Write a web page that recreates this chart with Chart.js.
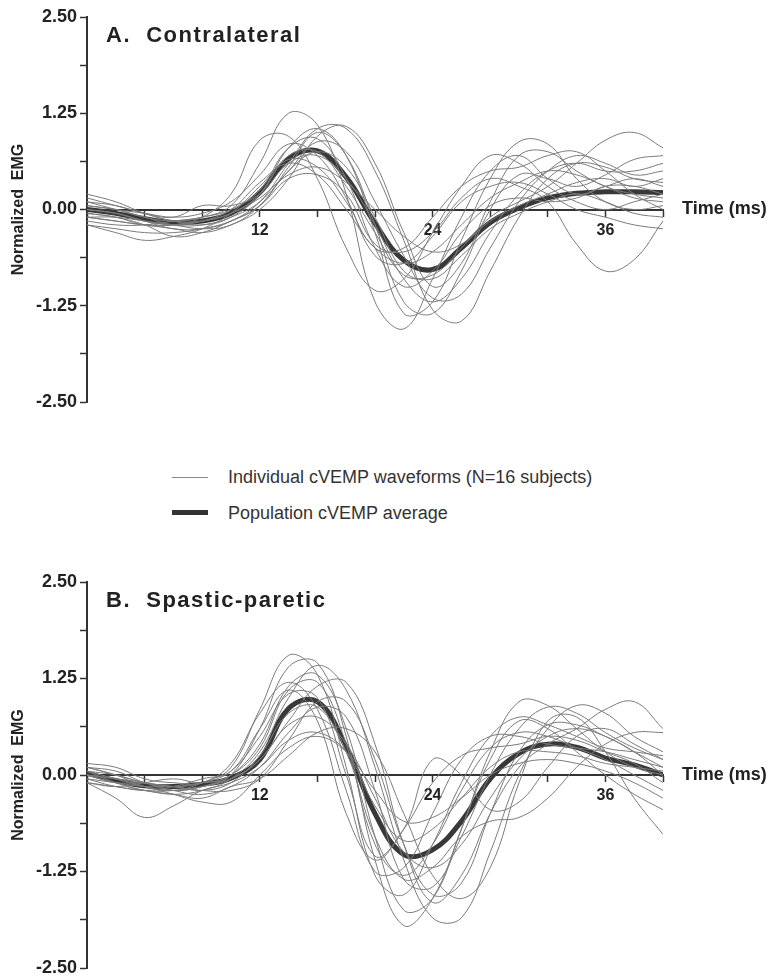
<!DOCTYPE html>
<html>
<head>
<meta charset="utf-8">
<script src="https://cdn.jsdelivr.net/npm/chart.js@4"></script>
<style>
  body { margin: 0; background: #fff; }
  #wrap { position: relative; width: 773px; height: 978px; }
  canvas { position: absolute; left: 0; }
  .legLine { position: absolute; left: 172px; width: 36px; }
  .legText { position: absolute; left: 228px; font: 18px "Liberation Sans", Arial, sans-serif; color: #333; line-height: 20px; white-space: nowrap; }
</style>
</head>
<body>
<div id="wrap">
  <canvas id="chartA" width="773" height="440" style="top:0px"></canvas>
  <div class="legLine" style="top:477px;height:1px;background:#888"></div>
  <div class="legText" style="top:467px">Individual cVEMP waveforms (N=16 subjects)</div>
  <div class="legLine" style="top:510px;height:5px;background:#333"></div>
  <div class="legText" style="top:503px">Population cVEMP average</div>
  <canvas id="chartB" width="773" height="418" style="top:560px"></canvas>
</div>
<script>
// time base (ms), sampled every 2 ms
const timeMs = [0,2,4,6,8,10,12,14,16,18,20,22,24,26,28,30,32,34,36,38,40];
const xTickLabels = [12, 24, 36];
const yTickLabels = [-2.5, -1.25, 0, 1.25, 2.5];

// A. Contralateral - population average
const contraAvg = [0.0,-0.05,-0.12,-0.17,-0.15,-0.05,0.22,0.66,0.76,0.42,-0.18,-0.66,-0.78,-0.5,-0.17,0.02,0.15,0.21,0.23,0.23,0.22];
// A. Contralateral - 16 subjects
const contraWaves = [
  [0.1,0.0,-0.1,-0.15,-0.1,0.05,0.6,1.25,1.1,0.2,-1.2,-1.55,-0.9,-0.1,0.5,0.7,0.4,0.2,0.3,0.4,0.3],
  [-0.05,-0.1,-0.2,-0.2,-0.1,0.2,0.9,0.95,0.4,-0.5,-1.05,-0.9,-0.3,0.3,0.7,0.6,0.3,0.1,0.0,0.1,0.2],
  [0.0,-0.05,-0.15,-0.25,-0.25,-0.15,0.1,0.6,1.05,1.05,0.5,-0.4,-1.3,-1.45,-0.8,-0.1,0.4,0.6,0.55,0.4,0.35],
  [0.2,0.1,-0.05,-0.15,-0.2,-0.1,0.2,0.8,1.05,0.7,-0.3,-1.35,-1.2,-0.4,0.4,0.88,0.85,0.4,0.1,0.0,0.05],
  [-0.1,-0.15,-0.2,-0.2,-0.15,-0.05,0.2,0.7,0.75,0.3,-0.3,-0.85,-0.85,-0.5,-0.1,0.1,0.3,0.6,0.9,1.0,0.8],
  [-0.2,-0.25,-0.3,-0.3,-0.25,-0.15,0.05,0.4,0.45,0.2,-0.45,-0.55,-0.3,0.15,0.4,0.3,0.1,-0.45,-0.8,-0.65,-0.15],
  [0.05,0.0,-0.1,-0.2,-0.2,-0.1,0.1,0.5,0.88,0.75,0.1,-0.6,-1.15,-1.1,-0.5,0.1,0.5,0.7,0.6,0.45,0.5],
  [0.0,-0.05,-0.15,-0.2,-0.15,0.0,0.35,0.6,0.45,0.0,-0.5,-0.7,-0.55,-0.2,0.15,0.35,0.5,0.45,0.3,0.15,0.1],
  [-0.15,-0.2,-0.2,-0.15,-0.1,0.0,0.25,0.8,0.92,0.4,-0.5,-1.0,-0.8,-0.3,0.05,0.15,0.1,0.15,0.3,0.3,0.2],
  [0.1,0.05,-0.05,-0.1,0.05,0.05,0.2,0.6,0.7,0.4,-0.2,-0.9,-1.2,-0.9,-0.3,0.2,0.5,0.6,0.5,0.5,0.6],
  [-0.1,-0.1,-0.15,-0.2,-0.25,-0.2,0.05,0.5,0.75,0.55,-0.1,-0.8,-0.9,-0.6,-0.25,-0.05,0.1,0.2,0.1,-0.05,-0.1],
  [0.05,0.0,-0.05,-0.1,-0.05,0.1,0.45,0.85,0.7,0.15,-0.6,-0.7,-0.35,0.1,0.3,0.35,0.2,0.0,-0.1,-0.2,-0.25],
  [-0.1,-0.15,-0.2,-0.25,-0.3,-0.2,0.0,0.4,0.95,1.08,0.6,-0.3,-1.0,-0.7,0.1,0.7,0.75,0.5,0.3,0.2,0.15],
  [0.15,0.05,-0.05,-0.15,-0.15,-0.05,0.15,0.45,0.55,0.35,0.0,-0.35,-0.55,-0.45,-0.15,0.05,0.2,0.35,0.4,0.3,0.4],
  [-0.05,-0.1,-0.2,-0.35,-0.3,-0.15,0.05,0.55,1.0,0.7,-0.2,-1.2,-1.35,-0.8,0.0,0.45,0.4,0.3,0.45,0.65,0.7],
  [-0.2,-0.3,-0.4,-0.35,-0.25,-0.05,0.3,0.65,0.55,0.1,-0.5,-0.5,-0.1,0.3,0.5,0.55,0.7,0.75,0.5,0.2,0.0]
];

// B. Spastic-paretic - population average
const spasticAvg = [0.02,-0.07,-0.14,-0.15,-0.12,-0.04,0.2,0.86,0.95,0.36,-0.5,-1.03,-0.97,-0.6,-0.05,0.28,0.4,0.36,0.22,0.13,0.0];
// B. Spastic-paretic - 16 subjects
const spasticWaves = [
  [0.1,0.0,-0.15,-0.2,-0.1,0.1,0.85,1.55,1.3,0.1,-1.3,-1.55,-0.9,-0.1,0.5,0.75,0.65,0.5,0.35,0.3,0.25],
  [0.05,-0.1,-0.2,-0.2,-0.15,0.0,0.6,1.4,1.45,0.5,-1.1,-1.95,-1.6,-0.7,0.3,0.95,0.9,0.6,0.3,0.1,0.0],
  [-0.05,-0.15,-0.2,-0.25,-0.2,-0.05,0.3,1.0,1.42,1.1,0.1,-1.1,-1.85,-1.85,-1.0,0.0,0.6,0.9,0.8,0.5,0.3],
  [0.0,-0.1,-0.1,-0.15,-0.1,-0.05,0.2,0.7,1.15,1.2,0.4,-0.9,-1.65,-1.3,-0.5,0.1,0.4,0.6,0.85,0.95,0.6],
  [0.15,0.1,-0.05,-0.1,-0.1,0.15,0.8,1.2,0.85,-0.2,-1.25,-1.2,-0.5,0.2,0.5,0.5,0.4,0.35,0.3,0.2,0.1],
  [-0.1,-0.3,-0.55,-0.4,-0.2,-0.1,0.1,0.45,0.55,0.3,-0.4,-0.85,-0.7,-0.3,0.1,0.3,0.3,0.25,0.15,0.1,0.05],
  [0.0,-0.1,-0.2,-0.25,-0.3,-0.15,-0.05,0.25,0.55,0.6,0.3,-0.5,-1.3,-1.6,-1.2,-0.1,0.7,0.75,0.3,-0.3,-0.77],
  [0.05,0.0,-0.1,-0.15,-0.1,0.05,0.5,1.05,1.0,0.0,-1.05,-0.7,0.2,0.0,-0.45,-0.35,0.1,0.5,0.6,0.4,0.2],
  [-0.05,-0.1,-0.15,-0.15,-0.2,-0.1,0.25,0.8,0.88,0.3,-0.8,-1.35,-1.2,-0.8,-0.6,-0.55,-0.3,0.1,0.4,0.55,0.55],
  [0.1,0.05,-0.1,-0.2,-0.15,0.0,0.4,1.15,1.3,0.6,-0.8,-1.75,-1.6,-0.7,0.2,0.7,0.6,0.3,0.0,-0.25,-0.45],
  [0.0,-0.05,-0.1,-0.2,-0.25,-0.15,0.1,0.55,0.88,0.75,-0.2,-1.35,-1.45,-0.8,0.0,0.6,0.88,0.8,0.55,0.35,0.2],
  [-0.1,-0.15,-0.2,-0.15,-0.05,0.05,0.6,1.1,0.7,-0.5,-1.1,-0.7,-0.1,0.25,0.35,0.4,0.5,0.45,0.3,0.15,-0.1],
  [0.05,-0.05,-0.15,-0.2,-0.15,-0.05,0.2,0.65,0.75,0.4,-0.3,-1.0,-1.2,-0.9,-0.3,0.2,0.5,0.6,0.5,0.3,0.1],
  [-0.1,-0.15,-0.1,-0.05,-0.1,0.0,0.35,1.1,1.2,0.4,-0.9,-1.3,-0.9,-0.2,0.35,0.55,0.5,0.35,0.2,0.0,-0.2],
  [0.1,0.0,-0.1,-0.15,-0.2,-0.2,-0.05,0.45,0.95,0.95,0.2,-0.9,-1.55,-1.4,-0.5,0.3,0.65,0.65,0.5,0.3,0.0],
  [0.0,-0.05,-0.15,-0.25,-0.35,-0.35,0.0,0.35,0.5,0.3,-0.2,-0.6,-0.55,-0.3,0.0,0.15,0.2,0.15,0.05,-0.1,-0.3]
];

const FONT = '"Liberation Sans", Arial, sans-serif';
Chart.defaults.font.family = FONT;

// panel title + "Time (ms)" written next to the zero line
const panelText = {
  id: 'panelText',
  afterDraw(chart, args, opts) {
    const { ctx, chartArea, scales } = chart;
    ctx.save();
    ctx.fillStyle = '#222';
    ctx.textBaseline = 'middle';
    ctx.textAlign = 'left';
    ctx.font = 'bold 22px ' + FONT;
    ctx.letterSpacing = '1.5px';
    ctx.fillText(opts.title, chartArea.left + 19, chartArea.top + 19);
    ctx.letterSpacing = '0px';
    ctx.font = 'bold 18px ' + FONT;
    ctx.fillText('Time (ms)', chartArea.right + 19, scales.y.getPixelForValue(0));
    ctx.restore();
  }
};

function toXY(arr) {
  return arr.map((v, i) => ({ x: timeMs[i], y: v }));
}

function makeChart(id, waves, avg, title, pad) {
  var datasets = waves.map(w => ({
    data: toXY(w),
    borderColor: '#7b7b7b',
    borderWidth: 1,
    pointRadius: 0,
    tension: 0.4
  }));
  datasets.push({
    data: toXY(avg),
    borderColor: '#383838',
    borderWidth: 5,
    pointRadius: 0,
    tension: 0.4
  });

  return new Chart(document.getElementById(id), {
    type: 'line',
    data: { datasets: datasets },
    options: {
      responsive: false,
      animation: false,
      layout: { padding: pad },
      plugins: {
        legend: { display: false },
        tooltip: { enabled: false },
        panelText: { title: title }
      },
      scales: {
        x: {
          type: 'linear',
          min: 0,
          max: 40,
          position: { y: 0 },
          ticks: {
            stepSize: 4,
            autoSkip: false,
            maxRotation: 0,
            padding: 5,
            color: '#222',
            font: { size: 16, weight: 'bold' },
            callback: v => xTickLabels.includes(v) ? String(v) : ''
          },
          grid: { drawOnChartArea: false, tickLength: 6, tickColor: '#333', tickWidth: 1.5 },
          border: { color: '#333', width: 2 },
          afterFit: s => { s.paddingLeft = 0; s.paddingRight = 0; }
        },
        y: {
          min: -2.5,
          max: 2.5,
          ticks: {
            stepSize: 0.625,
            autoSkip: false,
            padding: 3,
            color: '#222',
            font: { size: 18, weight: 'bold' },
            callback: v => yTickLabels.some(t => Math.abs(t - v) < 1e-6) ? v.toFixed(2) : ''
          },
          grid: { drawOnChartArea: false, tickLength: 7, tickColor: '#333', tickWidth: 1.5 },
          border: { color: '#333', width: 2 },
          title: {
            display: true,
            text: 'Normalized  EMG',
            color: '#222',
            font: { size: 16, weight: 'bold' },
            padding: { top: 9, bottom: 0 }
          },
          afterFit: s => { s.width = 87; s.paddingTop = 0; s.paddingBottom = 0; }
        }
      }
    },
    plugins: [panelText]
  });
}

makeChart('chartA', contraWaves, contraAvg, 'A.  Contralateral', { left: 0, top: 17, right: 110, bottom: 38 });
makeChart('chartB', spasticWaves, spasticAvg, 'B.  Spastic-paretic', { left: 0, top: 22, right: 110, bottom: 10 });
</script>
</body>
</html>
